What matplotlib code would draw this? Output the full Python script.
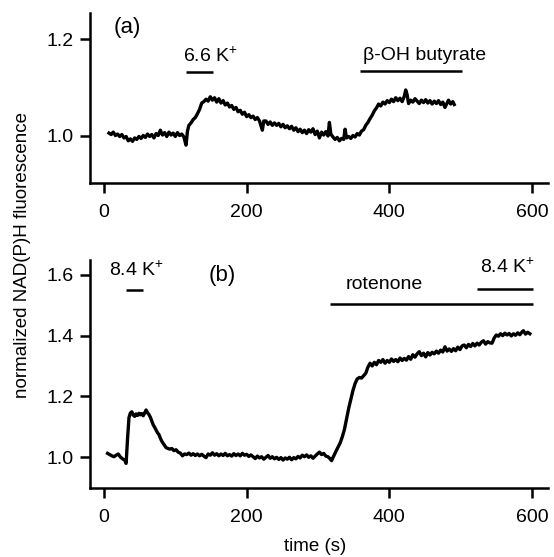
import matplotlib
matplotlib.use("Agg")
import matplotlib.pyplot as plt

plt.rcParams['font.family'] = ['Liberation Sans', 'DejaVu Sans']
plt.rcParams['mathtext.fontset'] = 'custom'
plt.rcParams['mathtext.rm'] = 'Liberation Sans'

# panel (a): NAD(P)H trace, 6.6 K+ then beta-OH butyrate
t_a = [7, 10, 13, 16, 19, 22, 25, 28, 31, 34, 37, 40, 43, 46, 49, 52, 55, 58, 61, 64,
       67, 70, 73, 76, 79, 82, 85, 88, 91, 94, 97, 100, 103, 106, 109, 112, 115, 117, 119, 122,
       125, 128, 131, 134, 137, 140, 143, 146, 149, 152, 155, 158, 161, 164, 167, 170, 173, 176, 179, 182,
       185, 188, 191, 194, 197, 200, 203, 206, 209, 212, 215, 218, 222, 224, 227, 230, 233, 236, 239, 242,
       245, 248, 251, 254, 257, 260, 263, 266, 269, 272, 275, 278, 281, 284, 287, 290, 293, 296, 299, 302,
       305, 308, 311, 314, 316, 318, 321, 324, 327, 330, 333, 336, 338, 340, 343, 346, 349, 352, 355, 358,
       361, 364, 367, 370, 373, 376, 379, 382, 385, 388, 391, 394, 397, 400, 403, 406, 409, 412, 415, 418,
       421, 423, 425, 427, 430, 433, 436, 439, 442, 445, 448, 451, 454, 457, 460, 463, 466, 469, 472, 475,
       478, 481, 483, 486, 489, 491]
v_a = [1.006, 1.003, 1.008, 1.001, 1.004, 0.999, 1.003, 0.996, 0.999, 0.990, 0.994, 0.989, 0.996, 0.993, 0.999, 0.995, 1.001, 0.997, 1.004, 0.999,
       1.003, 0.996, 1.005, 1.001, 1.012, 1.002, 1.007, 0.999, 1.008, 1.002, 1.006, 0.999, 1.007, 1.001, 1.004, 0.998, 0.981, 1.010, 1.022, 1.027,
       1.034, 1.038, 1.046, 1.055, 1.068, 1.071, 1.076, 1.072, 1.081, 1.074, 1.079, 1.070, 1.077, 1.068, 1.073, 1.064, 1.068, 1.060, 1.063, 1.055,
       1.059, 1.050, 1.053, 1.045, 1.049, 1.040, 1.044, 1.038, 1.041, 1.034, 1.038, 1.031, 1.012, 1.031, 1.031, 1.024, 1.029, 1.022, 1.027, 1.022,
       1.026, 1.019, 1.024, 1.017, 1.021, 1.015, 1.020, 1.012, 1.017, 1.009, 1.014, 1.007, 1.012, 1.005, 1.013, 1.008, 1.015, 1.003, 1.010, 0.996,
       1.008, 1.002, 1.009, 1.000, 1.028, 1.004, 0.998, 0.993, 0.997, 0.990, 0.995, 0.993, 1.014, 0.996, 0.999, 0.995, 1.001, 0.998, 1.005, 1.002,
       1.010, 1.013, 1.022, 1.028, 1.036, 1.043, 1.052, 1.058, 1.066, 1.062, 1.070, 1.066, 1.073, 1.069, 1.076, 1.071, 1.079, 1.073, 1.078, 1.071,
       1.082, 1.095, 1.085, 1.067, 1.074, 1.070, 1.077, 1.072, 1.067, 1.074, 1.069, 1.075, 1.068, 1.073, 1.066, 1.072, 1.067, 1.073, 1.065, 1.070,
       1.059, 1.068, 1.074, 1.066, 1.071, 1.065]

# panel (b): 8.4 K+, rotenone, 8.4 K+
t_b = [5, 8, 11, 14, 17, 20, 23, 26, 29, 31, 33, 35, 37, 39, 41, 43, 45, 47, 49, 51,
       53, 55, 57, 59, 61, 63, 65, 67, 69, 71, 73, 75, 77, 79, 81, 83, 85, 87, 89, 92,
       95, 98, 101, 104, 107, 110, 113, 116, 119, 122, 125, 128, 131, 134, 137, 140, 143, 146, 149, 152,
       155, 158, 161, 164, 167, 170, 173, 176, 179, 182, 185, 188, 191, 194, 197, 200, 203, 206, 209, 212,
       215, 218, 221, 224, 227, 230, 233, 236, 239, 242, 245, 248, 251, 254, 257, 260, 263, 266, 269, 272,
       275, 278, 281, 284, 287, 290, 293, 296, 299, 302, 305, 308, 311, 314, 317, 319, 322, 325, 328, 331,
       334, 337, 340, 343, 346, 349, 352, 355, 358, 361, 364, 367, 370, 373, 376, 379, 382, 385, 388, 391,
       394, 397, 400, 403, 406, 409, 412, 415, 418, 421, 424, 427, 430, 433, 436, 439, 442, 445, 448, 451,
       454, 457, 460, 463, 466, 469, 472, 475, 478, 481, 484, 487, 490, 493, 496, 499, 502, 505, 508, 511,
       514, 517, 520, 523, 526, 529, 532, 535, 538, 541, 544, 547, 550, 553, 556, 559, 562, 565, 568, 571,
       574, 577, 580, 583, 586, 588, 591, 594, 597]
v_b = [1.012, 1.008, 1.004, 1.001, 1.006, 1.010, 1.000, 0.994, 0.990, 0.979, 1.060, 1.130, 1.145, 1.149, 1.138, 1.134, 1.142, 1.137, 1.144, 1.139,
       1.143, 1.136, 1.145, 1.155, 1.146, 1.140, 1.131, 1.118, 1.106, 1.098, 1.089, 1.080, 1.074, 1.062, 1.052, 1.045, 1.038, 1.031, 1.029, 1.026,
       1.028, 1.021, 1.024, 1.016, 1.013, 1.004, 1.010, 1.008, 1.013, 1.006, 1.011, 1.005, 1.010, 1.004, 1.009, 1.003, 0.998, 1.010, 1.006, 1.014,
       1.006, 1.011, 1.004, 1.010, 1.005, 1.012, 1.004, 1.008, 1.003, 1.011, 1.005, 1.010, 1.004, 1.012, 1.006, 1.009, 1.002, 1.007, 1.001, 0.995,
       1.003, 0.997, 1.001, 0.993, 0.999, 1.005, 0.996, 1.001, 0.994, 0.999, 0.992, 0.998, 0.990, 0.997, 0.993, 0.999, 0.991, 0.998, 0.994, 1.002,
       0.997, 1.006, 1.001, 1.007, 0.999, 1.004, 0.996, 1.003, 1.010, 1.016, 1.008, 1.012, 1.003, 1.001, 0.994, 0.988, 1.003, 1.018, 1.032, 1.046,
       1.066, 1.090, 1.125, 1.160, 1.190, 1.219, 1.242, 1.257, 1.262, 1.260, 1.268, 1.276, 1.296, 1.309, 1.300, 1.312, 1.304, 1.318, 1.312, 1.321,
       1.309, 1.318, 1.312, 1.323, 1.315, 1.321, 1.314, 1.326, 1.318, 1.325, 1.319, 1.331, 1.322, 1.337, 1.329, 1.340, 1.347, 1.334, 1.342, 1.330,
       1.344, 1.336, 1.345, 1.340, 1.349, 1.342, 1.352, 1.346, 1.363, 1.349, 1.356, 1.348, 1.357, 1.350, 1.362, 1.354, 1.366, 1.369, 1.360, 1.371,
       1.364, 1.374, 1.366, 1.375, 1.369, 1.378, 1.383, 1.372, 1.380, 1.376, 1.375, 1.392, 1.402, 1.398, 1.406, 1.400, 1.408, 1.402, 1.407, 1.399,
       1.406, 1.401, 1.409, 1.403, 1.412, 1.416, 1.405, 1.411, 1.406]

# treatment bars: (start, end, height, label, label x, label y)
bars_a = [(115, 153, 1.132, '6.6 K$^{+}$', 149, 1.153),
          (359, 502, 1.135, 'β-OH butyrate', 450, 1.157)]
bars_b = [(31, 55, 1.550, '8.4 K$^{+}$', 46, 1.597),
          (317, 601, 1.504, 'rotenone', 393, 1.552),
          (523, 601, 1.555, '8.4 K$^{+}$', 566, 1.606)]

xticks = [0, 200, 400, 600]
yticks_a = [1.0, 1.2]
yticks_b = [1.0, 1.2, 1.4, 1.6]

fig = plt.figure(figsize=(5.54, 5.57), dpi=100)
ax1 = fig.add_axes([0.1625, 0.6715, 0.8267, 0.3052])
ax2 = fig.add_axes([0.1625, 0.1239, 0.8267, 0.4093])

def style(ax, yticks, ylim):
    for s in ['top', 'right']:
        ax.spines[s].set_visible(False)
    for s in ['left', 'bottom']:
        ax.spines[s].set_linewidth(1.8)
    ax.set_xlim(-19.6, 622.5)
    ax.set_ylim(*ylim)
    ax.set_xticks(xticks)
    ax.set_yticks(yticks)
    ax.set_yticklabels(['%.1f' % v for v in yticks])
    ax.tick_params(direction='out', length=7, width=1.8, labelsize=14)
    ax.tick_params(axis='x', pad=8)
    ax.tick_params(axis='y', pad=5)

style(ax1, yticks_a, (0.903, 1.254))
style(ax2, yticks_b, (0.898, 1.649))

ax1.plot(t_a, v_a, color='black', lw=2.4)
ax2.plot(t_b, v_b, color='black', lw=2.4)

for ax, bars in [(ax1, bars_a), (ax2, bars_b)]:
    for x0, x1, h, lab, lx, ly in bars:
        ax.plot([x0, x1], [h, h], color='black', lw=1.8, solid_capstyle='butt')
        ax.text(lx, ly, lab, ha='center', va='baseline', fontsize=14)

ax1.text(32, 1.225, '(a)', ha='center', va='center', fontsize=16)
ax2.text(166, 1.597, '(b)', ha='center', va='center', fontsize=16)

fig.text(0.040, 0.543, 'normalized NAD(P)H fluorescence', rotation=90,
         ha='center', va='center', fontsize=13.5)
fig.text(0.568, 0.0185, 'time (s)', ha='center', va='center', fontsize=13.5)

fig.savefig('out.png', dpi=100)
